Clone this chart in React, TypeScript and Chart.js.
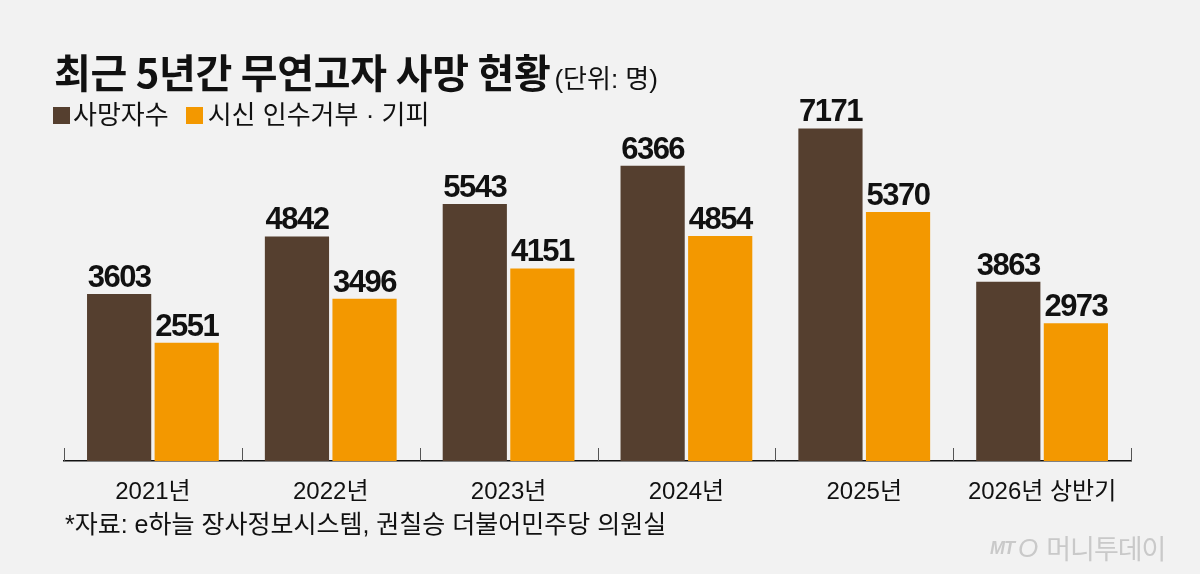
import React, { useEffect, useRef } from 'react';
import { Chart, registerables } from 'chart.js';

Chart.register(...registerables);

const years = ['2021년', '2022년', '2023년', '2024년', '2025년', '2026년 상반기'];
const deaths = [3603, 4842, 5543, 6366, 7171, 3863];
const refusals = [2551, 3496, 4151, 4854, 5370, 2973];
const seriesNames = ['사망자수', '시신 인수거부 · 기피'];

const BROWN = '#553f2f';
const ORANGE = '#f39800';
const BG = '#f2f2f2';
const LATIN_KR = '"Liberation Sans", "Noto Sans CJK KR", sans-serif';

// value labels above each bar + small tick marks between categories
const barDecor = {
  id: 'barDecor',
  afterDatasetsDraw(chart: any) {
    const { ctx, chartArea } = chart;
    ctx.save();
    ctx.font = 'bold 31px "Liberation Sans", sans-serif';
    (ctx as any).letterSpacing = '-1.5px';
    ctx.fillStyle = '#111';
    ctx.textAlign = 'center';
    ctx.textBaseline = 'alphabetic';
    chart.data.datasets.forEach((ds: any, di: number) => {
      const meta = chart.getDatasetMeta(di);
      meta.data.forEach((bar: any, i: number) => {
        ctx.fillText(String(ds.data[i]), bar.x, bar.y - 7);
      });
    });
    (ctx as any).letterSpacing = '0px';

    // tick marks pointing up from the axis
    const n = chart.data.labels.length;
    const step = (chartArea.right - chartArea.left) / n;
    ctx.strokeStyle = '#555';
    ctx.lineWidth = 1;
    for (let i = 0; i <= n; i++) {
      const x = Math.round(chartArea.left + i * step) + 0.5;
      ctx.beginPath();
      ctx.moveTo(x, chartArea.bottom - 13);
      ctx.lineTo(x, chartArea.bottom);
      ctx.stroke();
    }
    ctx.restore();
  },
};

const App: React.FC = () => {
  const chartRef = useRef<HTMLCanvasElement>(null);
  const chartInstance = useRef<Chart | null>(null);

  useEffect(() => {
    if (!chartRef.current) return;
    if (chartInstance.current) chartInstance.current.destroy();

    const ctx = chartRef.current.getContext('2d');
    if (!ctx) return;

    chartInstance.current = new Chart(ctx, {
      type: 'bar',
      data: {
        labels: years,
        datasets: [
          { label: seriesNames[0], data: deaths, backgroundColor: BROWN, borderWidth: 0 },
          { label: seriesNames[1], data: refusals, backgroundColor: ORANGE, borderWidth: 0 },
        ],
      },
      options: {
        responsive: false,
        animation: false,
        devicePixelRatio: 1,
        layout: { padding: { left: 64, right: 69, top: 90, bottom: 0 } },
        datasets: {
          bar: { categoryPercentage: 0.76, barPercentage: 0.95 },
        },
        plugins: {
          legend: { display: false },
          tooltip: { enabled: false },
        },
        scales: {
          x: {
            grid: { display: false },
            border: { display: true, color: '#111', width: 1.5 },
            ticks: {
              color: '#111',
              padding: 9,
              font: { family: LATIN_KR, size: 24 },
            },
            afterFit: (scale: any) => {
              scale.height = 113;
            },
          },
          y: {
            display: false,
            min: 0,
            max: 8000,
          },
        },
      },
      plugins: [barDecor],
    });

    return () => {
      if (chartInstance.current) {
        chartInstance.current.destroy();
        chartInstance.current = null;
      }
    };
  }, []);

  return (
    <div
      style={{
        position: 'absolute',
        left: 0,
        top: 0,
        width: 1200,
        height: 574,
        background: BG,
        overflow: 'hidden',
        fontFamily: LATIN_KR,
        color: '#111',
      }}
    >
      <canvas ref={chartRef} width={1200} height={574} style={{ position: 'absolute', left: 0, top: 0 }} />
      <div
        style={{
          position: 'absolute',
          left: 54,
          top: 51,
          whiteSpace: 'nowrap',
          lineHeight: 1,
        }}
      >
        <span style={{ fontFamily: '"Noto Sans CJK KR", sans-serif', fontWeight: 700, fontSize: 40, letterSpacing: -0.3 }}>
          최근 5년간 무연고자 사망 현황
        </span>
        <span style={{ fontSize: 26, marginLeft: 4 }}>(단위: 명)</span>
      </div>
      <div
        style={{
          position: 'absolute',
          left: 53,
          top: 102,
          display: 'flex',
          alignItems: 'center',
          fontSize: 26,
          whiteSpace: 'nowrap',
          lineHeight: 1,
        }}
      >
        <span style={{ width: 17, height: 17, background: BROWN, display: 'inline-block', marginRight: 3 }} />
        <span>{seriesNames[0]}</span>
        <span style={{ width: 17, height: 17, background: ORANGE, display: 'inline-block', marginLeft: 17, marginRight: 5 }} />
        <span>{seriesNames[1]}</span>
      </div>
      <div
        style={{
          position: 'absolute',
          left: 65,
          top: 512,
          fontSize: 25,
          whiteSpace: 'nowrap',
          lineHeight: 1,
        }}
      >
        *자료: e하늘 장사정보시스템, 권칠승 더불어민주당 의원실
      </div>
      <div
        style={{
          position: 'absolute',
          left: 990,
          top: 534,
          whiteSpace: 'nowrap',
          color: '#c9c9c9',
          lineHeight: 1,
          display: 'flex',
          alignItems: 'center',
        }}
      >
        <span style={{ fontStyle: 'italic', fontWeight: 700, fontSize: 18, letterSpacing: -1 }}>MT</span>
        <span style={{ fontStyle: 'italic', fontSize: 26, marginLeft: 4, marginRight: 8 }}>O</span>
        <span style={{ fontFamily: '"Noto Sans CJK KR", sans-serif', fontSize: 27, letterSpacing: -1 }}>머니투데이</span>
      </div>
    </div>
  );
};

export default App;
